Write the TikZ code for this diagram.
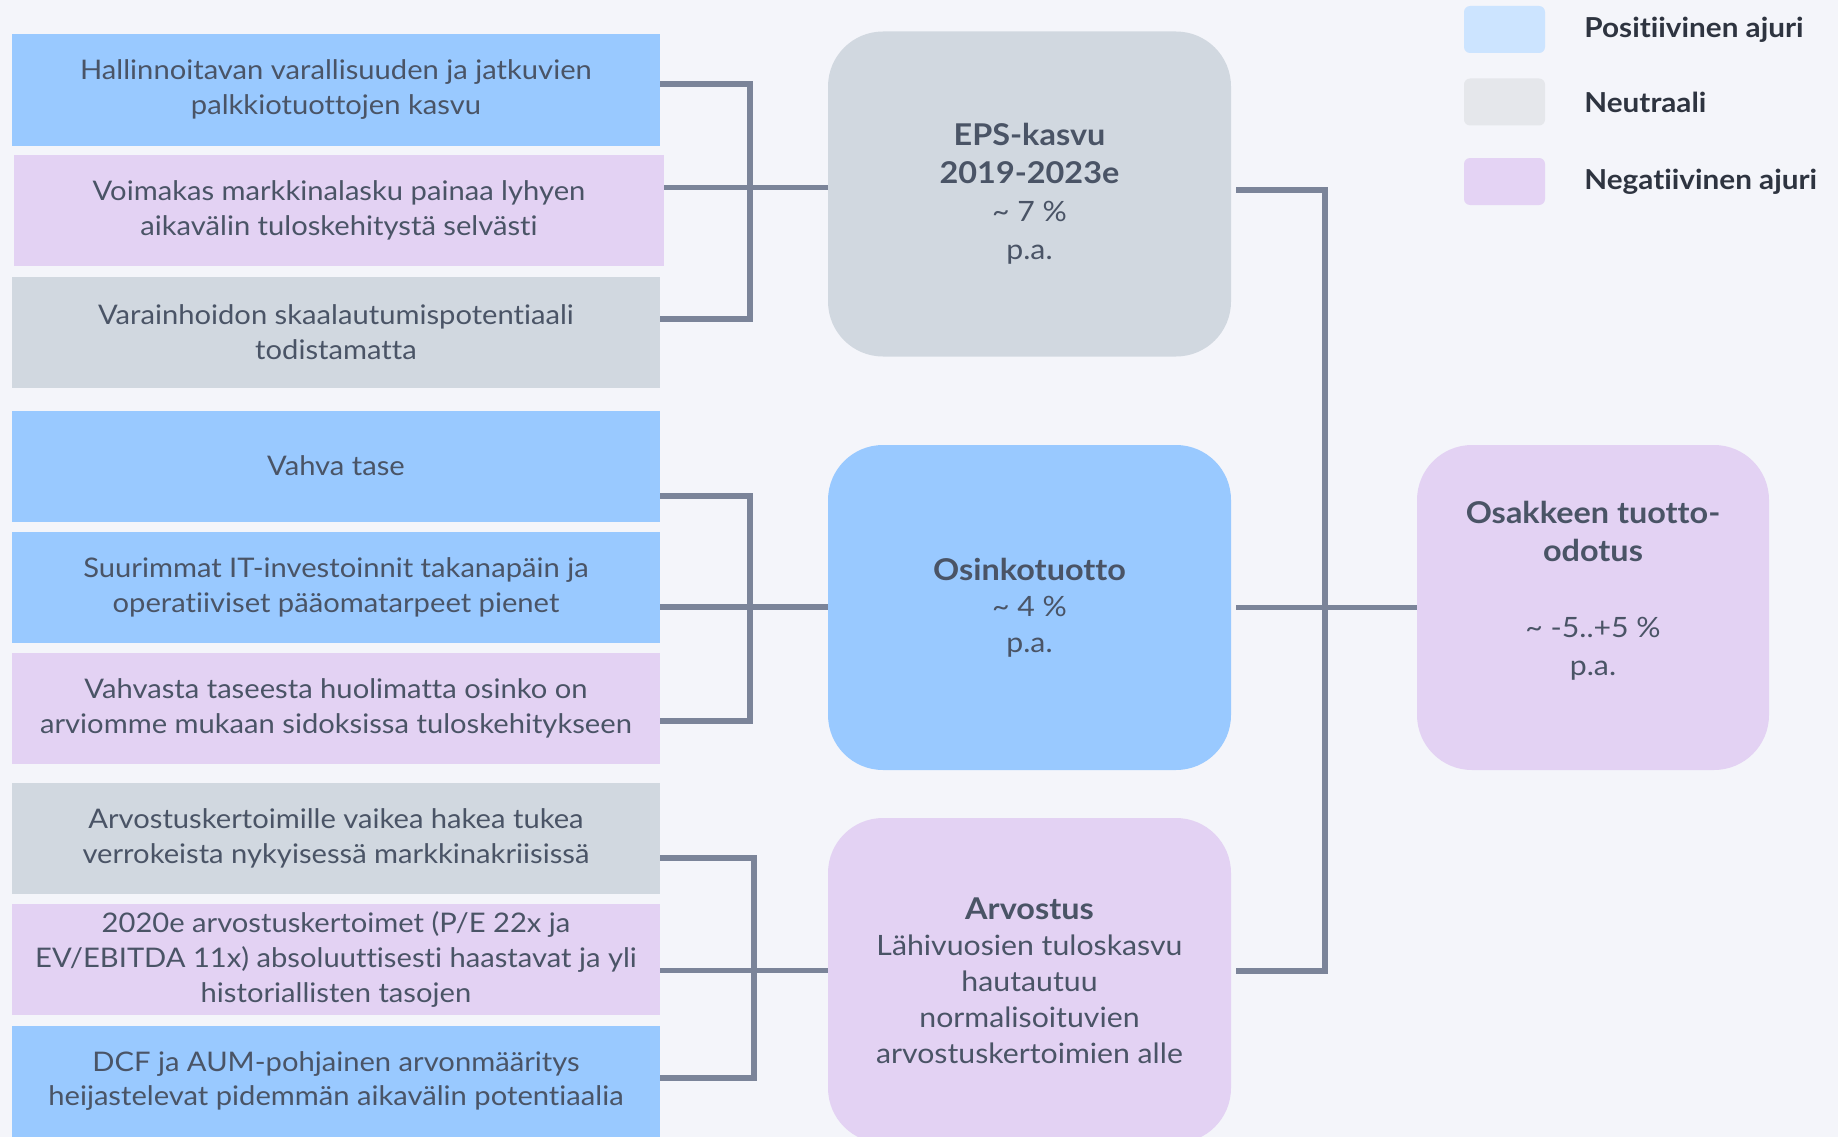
\documentclass[tikz,border=0pt]{standalone}
\usepackage{fontspec}
\setmainfont{Lato}[FakeStretch=1.08, Ligatures={NoCommon,NoRare}]
\usepackage{xcolor}
\usepackage{tikz}
\usetikzlibrary{positioning}

\definecolor{pagebg}{HTML}{F4F5FA}
\definecolor{posblue}{HTML}{99C9FF}
\definecolor{negpurple}{HTML}{E3D2F3}
\definecolor{neugray}{HTML}{D1D8E0}
\definecolor{linkgray}{HTML}{7B8499}
\definecolor{textgray}{HTML}{4A5466}
\definecolor{keyblue}{HTML}{CCE4FF}
\definecolor{keygray}{HTML}{E5E7EB}
\definecolor{keypurple}{HTML}{E4D3F4}
\definecolor{keytext}{HTML}{2E3440}

\newcommand{\headline}[1]{{\fontsize{30}{38}\selectfont\bfseries #1}}

\begin{document}
\begin{tikzpicture}[
    x=1pt, y=-1pt,
    driver/.style={rectangle, minimum width=648pt, minimum height=111pt, inner sep=0pt, align=center, text=textgray, font=\fontsize{27}{35}\selectfont},
    posbox/.style={driver, fill=posblue},
    negbox/.style={driver, fill=negpurple},
    neubox/.style={driver, fill=neugray},
    factor/.style={rectangle, rounded corners=55pt, minimum width=403pt, minimum height=325pt, inner sep=0pt, align=center, text=textgray, font=\fontsize{28}{38}\selectfont},
    link/.style={draw=linkgray, line width=5.5pt},
    key/.style={rectangle, rounded corners=6pt, minimum width=81pt, minimum height=47pt},
    keylabel/.style={font=\fontsize{27.5}{30}\selectfont\bfseries, text=keytext}
]

\useasboundingbox (0,0) rectangle (1838,1137);
\clip (0,0) rectangle (1838,1137);
\fill [pagebg] (0,0) rectangle (1838,1137);

% drivers, top to bottom
\node (b1) [posbox] at (336,90) {Hallinnoitavan varallisuuden ja jatkuvien\\palkkiotuottojen kasvu};
\node (b2) [negbox, minimum width=650pt] at (339,210.5) {Voimakas markkinalasku painaa lyhyen\\aikavälin tuloskehitystä selvästi};
\node (b3) [neubox] at (336,332) {Varainhoidon skaalautumispotentiaali\\todistamatta};
\node (b4) [posbox] at (336,466) {Vahva tase};
\node (b5) [posbox] at (336,587) {Suurimmat IT-investoinnit takanapäin ja\\operatiiviset pääomatarpeet pienet};
\node (b6) [negbox] at (336,708.5) {Vahvasta taseesta huolimatta osinko on\\arviomme mukaan sidoksissa tuloskehitykseen};
\node (b7) [neubox] at (336,838) {Arvostuskertoimille vaikea hakea tukea\\verrokeista nykyisessä markkinakriisissä};
\node (b8) [negbox] at (336,959.5) {2020e arvostuskertoimet (P/E 22x ja\\EV/EBITDA 11x) absoluuttisesti haastavat ja yli\\historiallisten tasojen};
\node (b9) [posbox] at (336,1081) {DCF ja AUM-pohjainen arvonmääritys\\heijastelevat pidemmän aikavälin potentiaalia};

% return components
\node (eps) [factor, fill=neugray] at (1029.5,194) {\headline{EPS-kasvu}\\\headline{2019-2023e}\\\textasciitilde\ 7 \%\\p.a.};
\node (osinko) [factor, fill=posblue, font=\fontsize{28}{36}\selectfont] at (1029.5,607.5) {\headline{Osinkotuotto}\\\textasciitilde\ 4 \%\\p.a.};
\node (arvo) [factor, fill=negpurple, font=\fontsize{28}{36}\selectfont] at (1029.5,980.5) {\headline{Arvostus}\\Lähivuosien tuloskasvu\\hautautuu\\normalisoituvien\\arvostuskertoimien alle};
\node (total) [factor, fill=negpurple, minimum width=352pt] at (1593,607.5) {\headline{Osakkeen tuotto-}\\\headline{odotus}\\[38pt]\textasciitilde\ -5..+5 \%\\p.a.\\\mbox{}};

% brackets into EPS
\draw [link] ([yshift=6]b1.east) -- ++(90,0) |- ([yshift=13]b3.east);
\draw [link] ([yshift=23]b2.east) -- ([yshift=23]b2.east -| eps.west);
% brackets into dividend
\draw [link] ([yshift=-30]b4.east) -- ++(90,0) |- ([yshift=-12.5]b6.east);
\draw [link] ([yshift=-20]b5.east) -- ([yshift=-20]b5.east -| osinko.west);
% brackets into valuation
\draw [link] ([yshift=-20]b7.east) -- ++(94,0) |- ([yshift=3]b9.east);
\draw [link] ([yshift=-11]b8.east) -- ([yshift=-11]b8.east -| arvo.west);

% trunk to total return
\draw [link] ([xshift=5,yshift=4]eps.east) -- ++(89,0) |- ([xshift=5,yshift=9.5]arvo.east);
\draw [link] ([xshift=5]osinko.east) -- (total.west);

% legend
\node (k1) [key, fill=keyblue] at (1504.5,29.5) {};
\node (k2) [key, fill=keygray] at (1504.5,102) {};
\node (k3) [key, fill=keypurple] at (1504.5,181.5) {};
\node (l1) [keylabel, right=39pt of k1.east, anchor=west, inner sep=0pt] {Positiivinen ajuri};
\node (l2) [keylabel, right=39pt of k2.east, anchor=west, inner sep=0pt] {Neutraali};
\node (l3) [keylabel, right=39pt of k3.east, anchor=west, inner sep=0pt] {Negatiivinen ajuri};

\end{tikzpicture}
\end{document}
